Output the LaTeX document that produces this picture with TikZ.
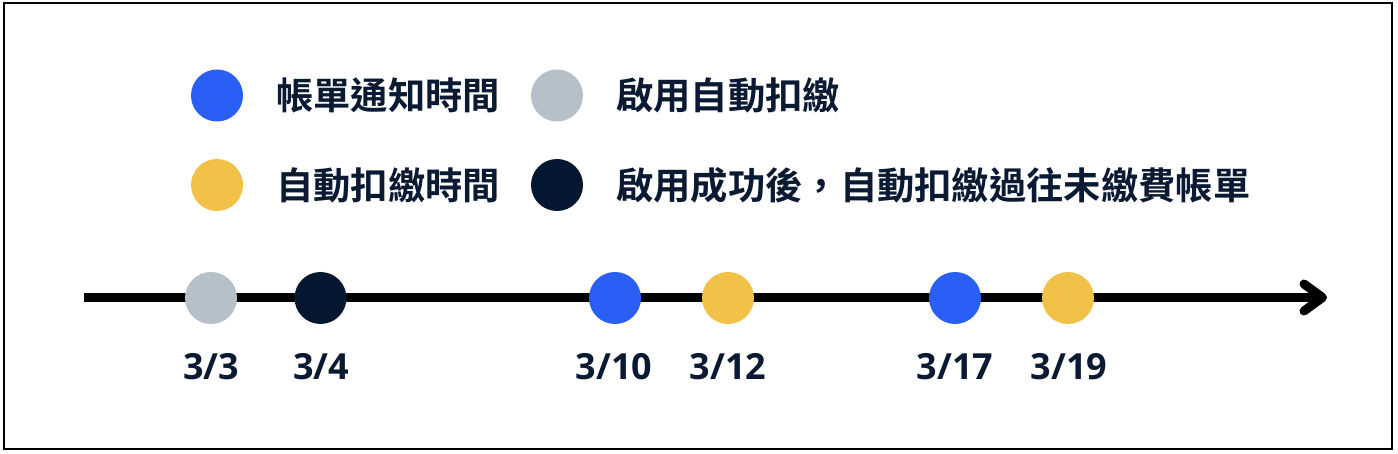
\documentclass[tikz,border=0pt]{standalone}
\usepackage{fontspec}
\usetikzlibrary{calc}
\newfontfamily\cjk{Noto Sans CJK TC}[BoldFont={Noto Sans CJK TC Bold}]
\newfontfamily\numfont{Open Sans}
\definecolor{cblue}{HTML}{2A5FF6}
\definecolor{cgrey}{HTML}{B6C0C9}
\definecolor{cyellow}{HTML}{F1C247}
\definecolor{cnavy}{HTML}{051630}
\definecolor{ctext}{HTML}{0A1A33}
\tikzset{
  dot/.style={circle, inner sep=0pt, minimum size=52pt, draw=none, fill=#1},
  legtext/.style={anchor=base west, inner sep=0pt, text=ctext, font=\cjk\bfseries\fontsize{37.3}{40}\selectfont},
  datelabel/.style={anchor=base, inner sep=0pt, text=ctext, font=\numfont\bfseries\fontsize{36}{40}\selectfont},
  axisline/.style={line width=9pt, black},
}
\begin{document}
\begin{tikzpicture}[x=1pt,y=-1pt]
\useasboundingbox (0,0) rectangle (1398,454);
\fill[white] (0,0) rectangle (1398,454);
\draw[line width=2.5pt, black] (4,3) rectangle (1392,449);

% legend
\node[dot=cblue] (l1) at (217,95.5) {};
\node[legtext] (t1) at (276,109.5) {帳單通知時間};
\node[dot=cyellow] (l2) at (217,185) {};
\node[legtext] (t2) at (276,199.5) {自動扣繳時間};
\node[dot=cgrey] (l3) at (557,95.5) {};
\node[legtext] (t3) at (616,109.5) {啟用自動扣繳};
\node[dot=cnavy] (l4) at (557,185) {};
\node[legtext] (t4) at (616,199.5) {啟用成功後，自動扣繳過往未繳費帳單};

% axis
\coordinate (start) at (84,297.5);
\coordinate (end) at (1322.5,297.5);
\draw[axisline] (start) -- (end);
\draw[axisline, line cap=round, line join=round]
  ($(end)+(-18.5,-13.5)$) -- (end) -- ($(end)+(-18.5,13.5)$);

% timeline dots
\node[dot=cgrey] (d1) at (211,298) {};
\node[dot=cnavy] (d2) at (320.5,298) {};
\node[dot=cblue] (d3) at (615,298) {};
\node[dot=cyellow] (d4) at (728,298) {};
\node[dot=cblue] (d5) at (955,298) {};
\node[dot=cyellow] (d6) at (1068,298) {};

% date labels
\node[datelabel] (n1) at (211,379) {3/3};
\node[datelabel] (n2) at (321,379) {3/4};
\node[datelabel] (n3) at (614,379) {3/10};
\node[datelabel] (n4) at (728,379) {3/12};
\node[datelabel] (n5) at (955,379) {3/17};
\node[datelabel] (n6) at (1069,379) {3/19};
\end{tikzpicture}
\end{document}
